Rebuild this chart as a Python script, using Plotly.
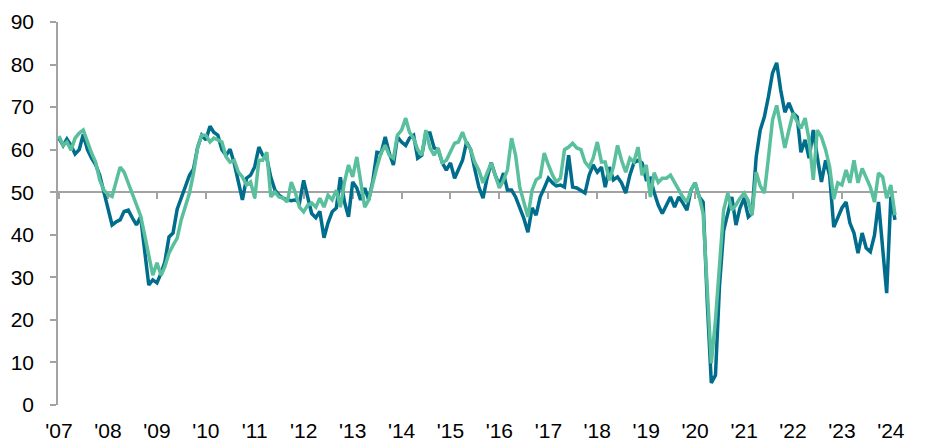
import pandas as pd
import plotly.graph_objects as go

# Monthly observations, Jan 2007 .. Feb 2024
months = pd.date_range("2007-01-01", "2024-02-01", freq="MS")

year_ticks = pd.date_range("2007-01-01", "2024-01-01", freq="YS")
year_labels = ["'07", "'08", "'09", "'10", "'11", "'12", "'13", "'14", "'15",
               "'16", "'17", "'18", "'19", "'20", "'21", "'22", "'23", "'24"]

# Dark teal series (by year)
dark = [
    62.7, 61, 62.5, 61, 59, 60, 63.6, 60, 58, 56.5, 54, 50,            # 2007
    46, 42.3, 43, 43.5, 45.5, 45.8, 44, 42.3, 44.2, 36, 28.2, 29.4,    # 2008
    28.7, 31, 33.6, 39.5, 40.4, 46, 48.5, 51, 54, 55.5, 60.6, 63.4,    # 2009
    62.3, 65.5, 64.1, 63.4, 60, 58.7, 60.1, 56.8, 52.4, 48.2, 53.3, 54,  # 2010
    56, 60.6, 58.7, 58, 53.5, 50.5, 49.3, 48.6, 48.2, 48, 48.2, 47.5,  # 2011
    52.8, 49, 45, 44, 45.5, 39.3, 42.8, 45.4, 46.3, 53.5, 47.7, 44.2,  # 2012
    52.4, 51, 48.2, 51, 48.2, 52.8, 59.4, 59.2, 63, 59.2, 56.4, 63,    # 2013
    61.8, 61, 62.7, 63.4, 58, 58.7, 63.9, 63.9, 60.4, 60, 56.9, 55.2,  # 2014
    56.9, 53.3, 55.2, 57.5, 61.8, 60, 55.5, 51.2, 48.6, 53.3, 57, 54,  # 2015
    51.7, 54.5, 50.5, 50.5, 48.9, 46.5, 43.9, 40.6, 46.3, 44.6, 48.9, 51,  # 2016
    53.3, 52.2, 51.5, 51.7, 51.2, 58.7, 51.2, 51, 50.5, 49.8, 54, 56.4,  # 2017
    54.7, 55.9, 51.2, 55.9, 52.9, 53.6, 52.2, 49.8, 54, 56.9, 57.5, 56.9,  # 2018
    53, 53.3, 50, 47, 45, 47, 48.9, 46.5, 48.9, 47.5, 45.8, 50.5,      # 2019
    52.2, 48.9, 47.7, 24, 5.2, 7, 28, 41, 45, 48.9, 42.3, 46.3,        # 2020
    48.6, 44.2, 45, 58.3, 64.6, 67.7, 72.4, 78, 80.4, 74, 68.8, 71,    # 2021
    68.6, 67.7, 59.4, 62.3, 58, 64.6, 58.3, 52.4, 57.5, 54, 41.8, 44.2,  # 2022
    46.3, 47.7, 42.8, 40.4, 35.7, 40.4, 36.9, 36, 39.9, 47.7, 37, 26.3,  # 2023
    48.9, 43.5,                                                        # 2024
]

# Light green series (by year)
light = [
    63.2, 61, 61.8, 59.9, 62.7, 63.9, 64.6, 61.6, 59.2, 57.1, 52.9, 50.5,  # 2007
    49.5, 49, 52, 55.9, 54.7, 52.2, 50, 47.5, 44.5, 40, 35.5, 30.5,    # 2008
    33.4, 30.5, 32.5, 35.7, 37.5, 39.2, 43.5, 46.5, 49.8, 54.5, 60.6, 63.4,  # 2009
    63.4, 61.8, 62.7, 62.3, 61.8, 58.3, 57.1, 57.5, 54.7, 53.6, 51.7, 52.4,  # 2010
    48.6, 57.5, 57.5, 59.4, 48.9, 50, 48.9, 48.6, 47.7, 52.4, 49.8, 46.5,  # 2011
    45.4, 47, 47.5, 46.5, 48.6, 46.5, 49.3, 48.2, 50.5, 46.5, 52.4, 56.4,  # 2012
    53.6, 58.3, 52.8, 46.5, 48.2, 52.2, 55.9, 59.2, 61, 58.7, 58, 63.4,  # 2013
    64.6, 67.4, 64.1, 62.7, 60, 58.7, 64.6, 60.4, 58.7, 60.4, 56.9, 57.5,  # 2014
    59.4, 61.5, 61.8, 64.1, 61.5, 60, 57, 55.2, 52.2, 54.7, 56.9, 54,  # 2015
    51, 52.8, 55.2, 62.7, 58.7, 51.2, 47.5, 44.2, 50.5, 52.9, 53.6, 59.2,  # 2016
    56.4, 54, 52.4, 53.3, 60, 60.6, 61.5, 60.4, 60, 57.1, 55.9, 58,    # 2017
    61.8, 57.1, 57.1, 52.8, 55.9, 61, 57.5, 54.7, 58, 57.1, 60.6, 54,  # 2018
    56.4, 48.9, 54.6, 52.3, 53.3, 53.3, 54, 52.2, 50.5, 48.9, 47.7, 50.5,  # 2019
    52.2, 48.9, 45, 25, 9.8, 20, 33, 45.8, 49.8, 45.8, 47, 48.6,       # 2020
    49.8, 48, 44.6, 54.7, 51.5, 49.8, 58, 67, 70.4, 65, 60.4, 64.6,    # 2021
    68.6, 66.5, 65, 67.4, 62.3, 52.9, 64.6, 63, 60, 56, 48.4, 52.2,    # 2022
    51.7, 55.2, 52.2, 57.5, 52.2, 55.6, 53.3, 51.2, 47.7, 54.5, 53.6, 48.6,  # 2023
    51.7, 44.6,                                                        # 2024
]

DARK = "#006D8C"
LIGHT = "#5ABF9D"
AXIS = "#A3A3A3"
FONT = dict(family="Liberation Sans, Arial, sans-serif", size=21, color="#000000")

x_range = ["2006-12-24 12:00", "2024-02-16"]

fig = go.Figure()
fig.add_trace(go.Scatter(x=months, y=dark, mode="lines",
                         line=dict(color=DARK, width=3.5), showlegend=False))
fig.add_trace(go.Scatter(x=months, y=light, mode="lines",
                         line=dict(color=LIGHT, width=3.5), showlegend=False))
# helper trace so the axis crossing at 50 is rendered
fig.add_trace(go.Scatter(x=[months[0]], y=[None], xaxis="x2", yaxis="y",
                         mode="lines", showlegend=False, hoverinfo="skip"))

fig.update_layout(
    width=926, height=443,
    margin=dict(l=58, r=29, t=22, b=38, autoexpand=False),
    paper_bgcolor="white", plot_bgcolor="white",
    showlegend=False,
    xaxis=dict(type="date", range=x_range, tickvals=year_ticks, ticktext=year_labels,
               showline=False, ticks="", showgrid=False, zeroline=False,
               tickfont=FONT, ticklabelstandoff=11, automargin=False),
    xaxis2=dict(type="date", overlaying="x", anchor="free", position=50 / 90,
                range=x_range, tickvals=year_ticks, showticklabels=False,
                showline=True, linecolor=AXIS, linewidth=1.5,
                ticks="outside", ticklen=6, tickwidth=1.5, tickcolor=AXIS,
                showgrid=False, zeroline=False, layer="below traces",
                automargin=False),
    yaxis=dict(range=[0, 90], tick0=0, dtick=10, showline=True, linecolor=AXIS,
               linewidth=1.5, ticks="outside", ticklen=6, tickwidth=1.5, tickcolor=AXIS,
               showgrid=False, zeroline=False, tickfont=FONT, ticklabelstandoff=12,
               automargin=False),
)

fig.write_html(
    "out.html",
    config={"displayModeBar": False},
    post_script="document.body.style.margin='0';document.body.style.overflow='hidden';",
)
